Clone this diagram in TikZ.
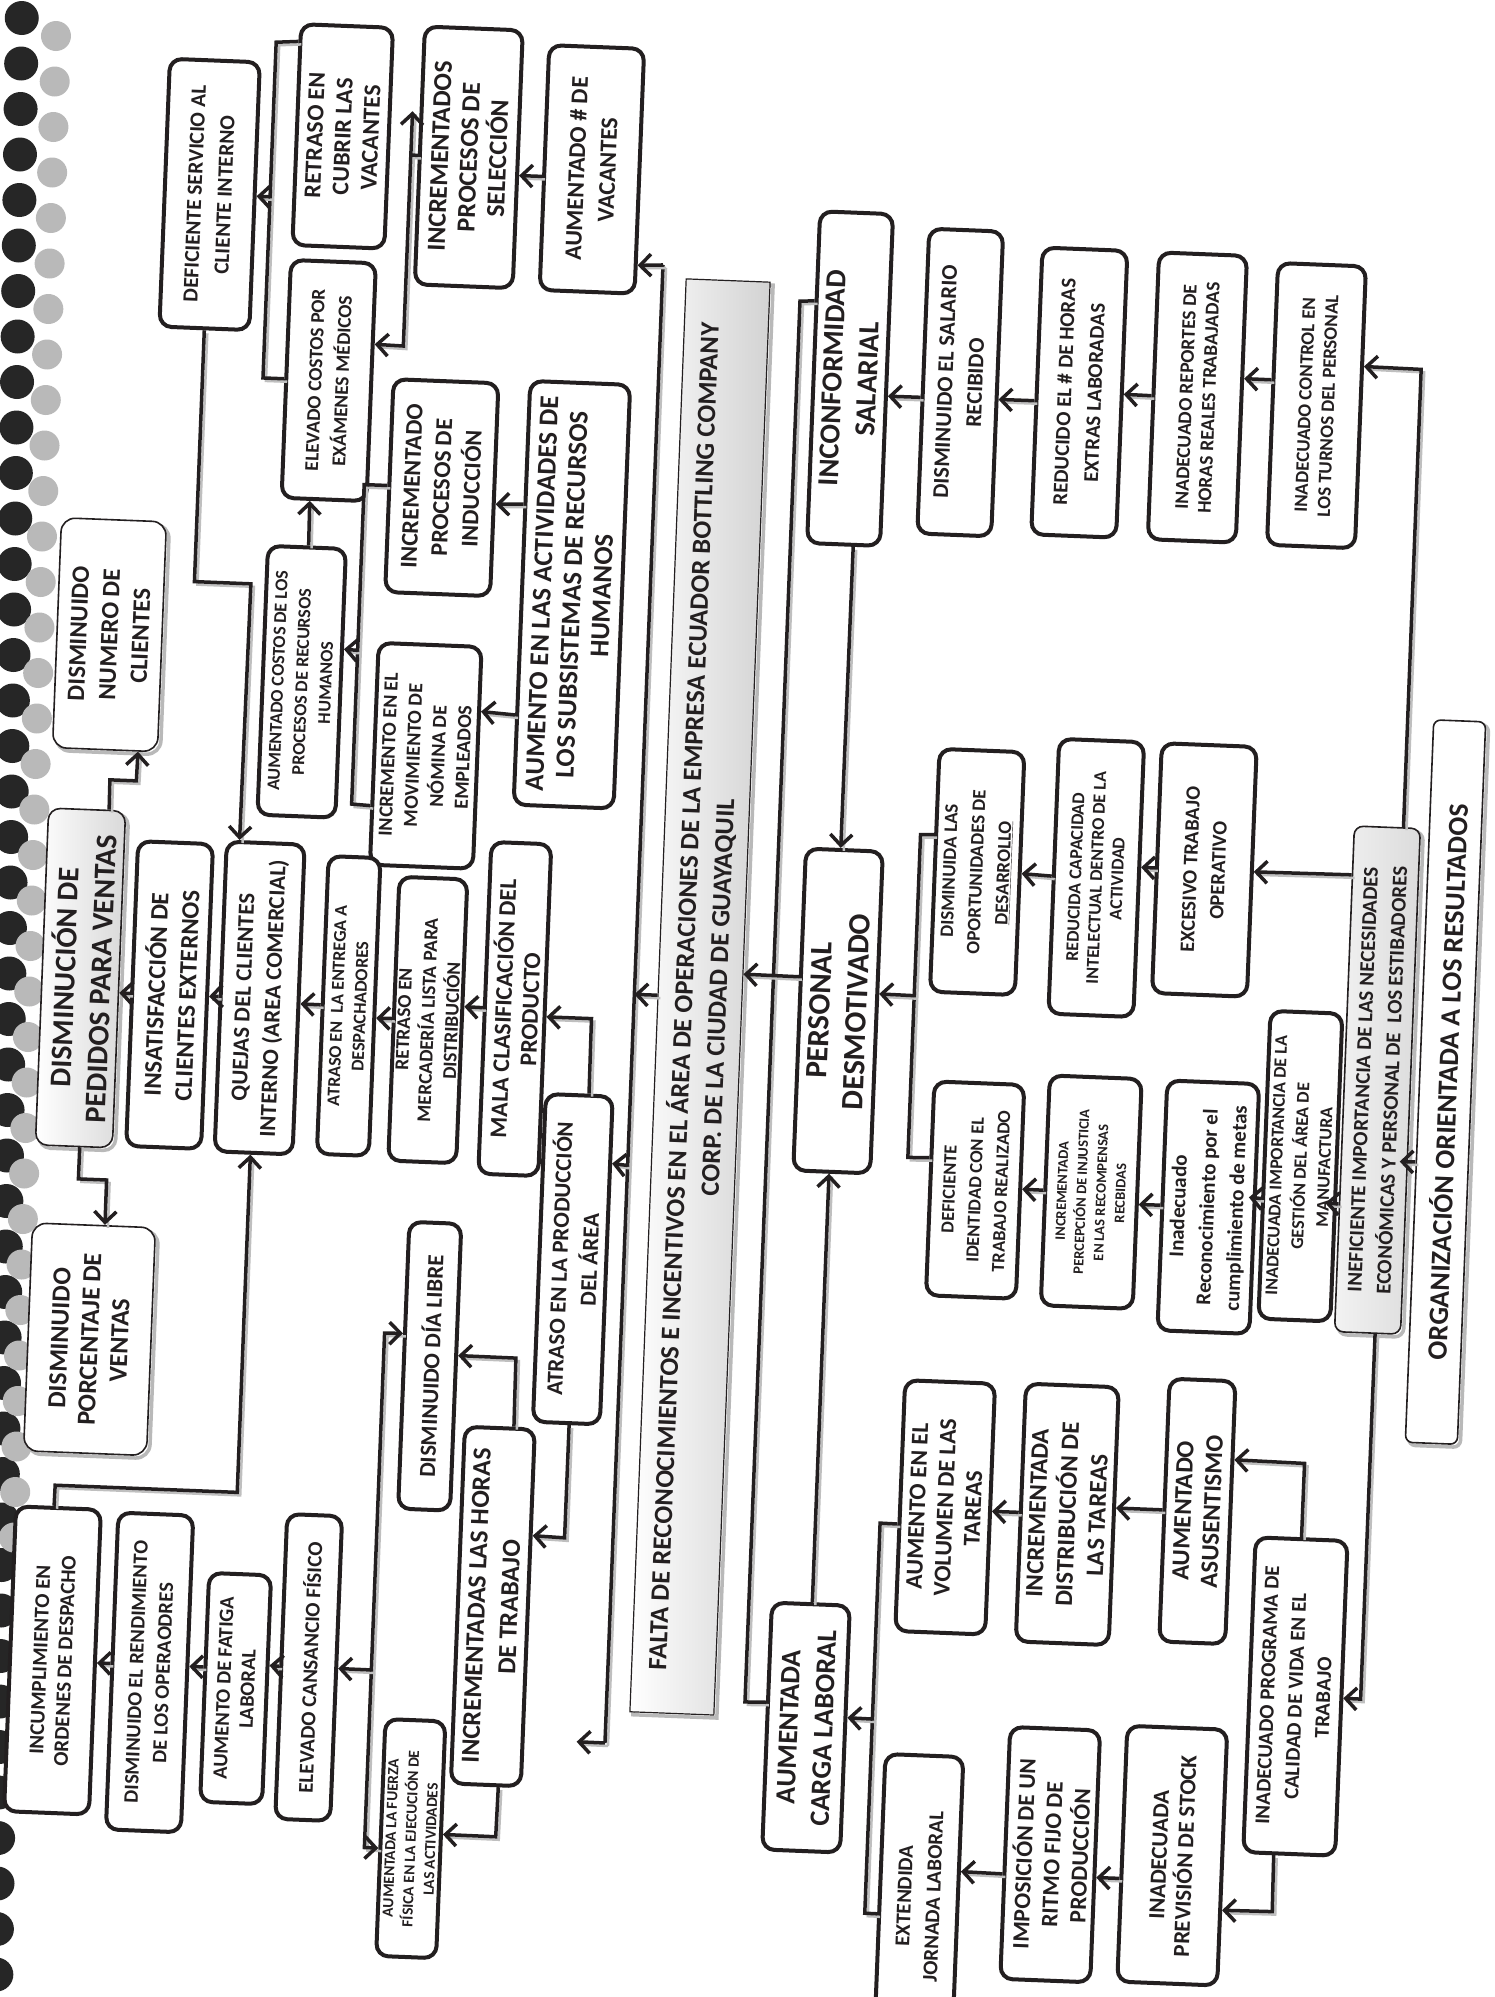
\documentclass[tikz,border=0pt]{standalone}
\usepackage{fontspec}
\setmainfont{Carlito}
\usetikzlibrary{calc,arrows.meta}
\definecolor{ink}{HTML}{231F20}
\tikzset{
  nd/.style={rotate=90, align=center, inner sep=2pt, text=ink},
  sz/.style 2 args={minimum height=#1pt, minimum width=#2pt},
  fs/.style 2 args={font=\fontsize{#1}{#2}\selectfont\bfseries},
  shd/.style={preaction={draw=gray!55, line width=3.5pt, transform canvas={xshift=3pt,yshift=-3pt}}},
  bx/.style={nd, draw=ink, line width=4pt, rounded corners=12pt, fill=white},
  thinbox/.style={nd, shd, draw=ink, line width=1.6pt, rounded corners=14pt, fill=white},
  graybox/.style={nd, shd, draw=ink, line width=1.6pt, rounded corners=12pt, left color=white, right color=gray!30},
  inefbox/.style={nd, shd, draw=ink, line width=1.6pt, rounded corners=9pt, left color=gray!10, right color=gray!28},
  orgbox/.style={nd, shd, draw=ink, line width=1.6pt, rounded corners=7pt, fill=white},
  barbox/.style={nd, shd, draw=ink, line width=1.2pt, left color=white, right color=gray!35},
  ln/.style={line width=3.5pt, draw=ink, preaction={-, draw=gray!50, line width=2.5pt, transform canvas={xshift=3pt,yshift=-3pt}}},
  ar/.style={ln, -{Straight Barb[length=11pt,width=22pt]}},
  arr2/.style={ln, {Straight Barb[length=11pt,width=22pt]}-{Straight Barb[length=11pt,width=22pt]}},
}
\begin{document}
\begin{tikzpicture}[x=1pt,y=-1pt]
\useasboundingbox (0,0) rectangle (1494,1997);
\clip (0,0) rectangle (1494,1997);
\fill[white] (0,0) rectangle (1494,1997);
% spiral binding
\foreach \i in {0,...,43}{
  \pgfmathsetmacro\spy{18+45.5*\i}
  \pgfmathsetmacro\spx{22-0.013*\spy}
  \fill[black!85] (\spx,\spy) circle[radius=17];
}
\foreach \i in {0,...,33}{
  \pgfmathsetmacro\spy{36+45.5*\i}
  \pgfmathsetmacro\spx{57-0.028*\spy}
  \fill[gray!55] (\spx,\spy) circle[radius=15];
}
\begin{scope}[rotate around={-2.25:(747,998)}, transform shape]
% ---------------- nodes ----------------
\node[bx, sz={90}{268}, fs={21.5}{30}] (defserv) at (178.5,216.1) {DEFICIENTE SERVICIO AL\\CLIENTE INTERNO};
\node[bx, sz={92}{221}, fs={24}{28}] (retcub) at (309.2,152.9) {RETRASO EN\\CUBRIR LAS\\VACANTES};
\node[bx, sz={85}{238}, fs={19.5}{27}] (elevcost) at (304.8,397.4) {ELEVADO COSTOS POR\\EXÁMENES MÉDICOS};
\node[bx, sz={98}{258}, fs={26}{29}] (selec) at (436,168.9) {INCREMENTADOS\\PROCESOS DE\\SELECCIÓN};
\node[bx, sz={105}{213}, fs={24}{30}] (induc) at (422,500) {INCREMENTADO\\PROCESOS DE\\INDUCCIÓN};
\node[bx, sz={95}{245}, fs={24}{31}] (vac) at (559.5,176.1) {AUMENTADO \# DE\\VACANTES};
\node[barbox, sz={84}{1434}, fs={26.5}{34}] (bar) at (700,998.8) {FALTA DE RECONOCIMIENTOS E INCENTIVOS EN EL ÁREA DE OPERACIONES DE LA EMPRESA ECUADOR BOTTLING COMPANY\\CORP. DE LA CIUDAD DE GUAYAQUIL};
\node[bx, sz={73}{332}, fs={29}{35}] (inconf) at (825.7,375) {INCONFORMIDAD\\SALARIAL};
\node[bx, sz={74}{305}, fs={22.5}{30}] (dsal) at (935.9,374.6) {DISMINUIDO EL SALARIO\\RECIBIDO};
\node[bx, sz={85}{287}, fs={21}{30}] (redu) at (1055.3,380) {REDUCIDO EL \# DE HORAS\\EXTRAS LABORADAS};
\node[bx, sz={88}{287}, fs={19.5}{23}] (repor) at (1173.5,380.3) {INADECUADO REPORTES DE\\HORAS REALES TRABAJADAS};
\node[bx, sz={88}{282}, fs={19}{23}] (ctrl) at (1292.8,383.7) {INADECUADO CONTROL EN\\LOS TURNOS DEL PERSONAL};
\node[thinbox, sz={105}{230}, fs={25}{31}] (numcli) at (95.7,660) {DISMINUIDO\\NUMERO DE\\CLIENTES};
\node[graybox, sz={77}{337}, fs={30}{36}] (pedidos) at (80.2,1004.1) {DISMINUCIÓN DE\\PEDIDOS PARA VENTAS};
\node[bx, sz={75}{305}, fs={25}{31}] (insat) at (169.9,1017.7) {INSATISFACCIÓN DE\\CLIENTES EXTERNOS};
\node[bx, sz={78}{310}, fs={23}{30}] (quejas) at (260,1017.1) {QUEJAS DEL CLIENTES\\INTERNO (AREA COMERCIAL)};
\node[bx, sz={78}{269}, fs={18}{24}] (aucost) at (289.6,699.5) {AUMENTADO COSTOS DE LOS\\PROCESOS DE RECURSOS\\HUMANOS};
\node[bx, sz={103}{222}, fs={20}{25}] (nomina) at (416.5,768.6) {INCREMENTO EN EL\\MOVIMIENTO DE\\NÓMINA DE\\EMPLEADOS};
\node[bx, sz={100}{424}, fs={27}{30}] (subsis) at (556.2,601.9) {AUMENTO EN LAS ACTIVIDADES DE\\LOS SUBSISTEMAS DE RECURSOS\\HUMANOS};
\node[bx, sz={77}{322}, fs={31}{37}] (personal) at (838.5,1007.4) {PERSONAL\\DESMOTIVADO};
\node[bx, sz={85}{243}, fs={19}{27}] (dopor) at (972.1,863) {DISMINUIDA LAS\\OPORTUNIDADES DE\\\underline{DESARROLLO}};
\node[bx, sz={85}{275}, fs={18}{21}] (redcap) at (1091.3,864.3) {REDUCIDA CAPACIDAD\\INTELECTUAL DENTRO DE LA\\ACTIVIDAD};
\node[bx, sz={95}{250}, fs={20.5}{28}] (exces) at (1199,852.1) {EXCESIVO TRABAJO\\OPERATIVO};
\node[inefbox, sz={66}{506}, fs={21}{29}] (inef) at (1380.2,1055.3) {INEFICIENTE IMPORTANCIA DE LAS NECESIDADES\\ECONÓMICAS Y PERSONAL DE\ \ LOS ESTIBADORES};
\node[bx, sz={72}{308}, fs={18}{24}] (inimp) at (1306.6,1144.3) {INADECUADA IMPORTANCIA DE LA\\GESTIÓN DEL ÁREA DE\\MANUFACTURA};
\node[bx, sz={92}{250}, fs={21}{29}] (inrec) at (1216.2,1188.9) {Inadecuado\\Reconocimiento por el\\cumplimiento de metas};
\node[bx, sz={92}{230}, fs={14.5}{19.5}] (percep) at (1098.6,1178.5) {INCREMENTADA\\PERCEPCIÓN DE INJUSTICIA\\EN LAS RECOMPENSAS\\RECBIDAS};
\node[bx, sz={90}{214}, fs={18.4}{26}] (defid) at (982.5,1181) {DEFICIENTE\\IDENTIDAD CON EL\\TRABAJO REALIZADO};
\node[orgbox, sz={52}{723}, fs={28}{30}] (org) at (1448.3,1054.6) {ORGANIZACIÓN ORIENTADA A LOS RESULTADOS};
\node[thinbox, sz={123}{228}, fs={26}{30}] (porc) at (103.4,1364.8) {DISMINUIDO\\PORCENTAJE DE\\VENTAS};
\node[bx, sz={52}{298}, fs={18}{23}] (atrent) at (349.3,1021.6) {ATRASO EN\ \ LA ENTREGA A\\DESPACHADORES};
\node[bx, sz={68}{284}, fs={19.5}{24}] (retmer) at (428.9,1032.5) {RETRASO EN\\MERCADERÍA LISTA PARA\\DISTRIBUCIÓN};
\node[bx, sz={60}{332}, fs={24}{27}] (mala) at (515.4,1018.1) {MALA CLASIFICACIÓN DEL\\PRODUCTO};
\node[bx, sz={52}{287}, fs={23}{27}] (dialib) at (444.4,1378.4) {DISMINUIDO DÍA LIBRE};
\node[bx, sz={85}{305}, fs={21}{25}] (incump) at (79,1687.2) {INCUMPLIMIENTO EN\\ORDENES DE DESPACHO};
\node[bx, sz={75}{317}, fs={20.5}{27}] (rendi) at (176.5,1695.4) {DISMINUIDO EL RENDIMIENTO\\DE LOS OPERAODRES};
\node[bx, sz={62}{229}, fs={20.5}{24}] (fatiga) at (263.1,1708.1) {AUMENTO DE FATIGA\\LABORAL};
\node[bx, sz={55}{305}, fs={21}{25}] (cansan) at (335.3,1684.2) {ELEVADO CANSANCIO FÍSICO};
\node[bx, sz={60}{237}, fs={15.5}{20}] (fuerza) at (444,1851.2) {AUMENTADA LA FUERZA\\FÍSICA EN LA EJECUCIÓN DE\\LAS ACTIVIDADES};
\node[bx, sz={70}{357}, fs={26}{33}] (horas) at (516.9,1616) {INCREMENTADAS LAS HORAS\\DE TRABAJO};
\node[bx, sz={67}{328}, fs={23}{30}] (atrprod) at (583.2,1265.8) {ATRASO EN LA PRODUCCIÓN\\DEL ÁREA};
\node[bx, sz={78}{247}, fs={28}{35}] (aucarga) at (834.6,1724.7) {AUMENTADA\\CARGA LABORAL};
\node[bx, sz={90}{251}, fs={24}{28}] (volumen) at (965,1499.2) {AUMENTO EN EL\\VOLUMEN DE LAS\\TAREAS};
\node[bx, sz={93}{258}, fs={25}{30}] (distrib) at (1087.3,1501.4) {INCREMENTADA\\DISTRIBUCIÓN DE\\LAS TAREAS};
\node[bx, sz={66}{263}, fs={25}{29}] (asus) at (1217.2,1493.3) {AUMENTADO\\ASUSENTISMO};
\node[bx, sz={92}{315}, fs={21}{28}] (progr) at (1322.4,1674.5) {INADECUADO PROGRAMA DE\\CALIDAD DE VIDA EN EL\\TRABAJO};
\node[bx, sz={90}{252}, fs={23.5}{28}] (impos) at (1083.6,1842.1) {IMPOSICIÓN DE UN\\RITMO FIJO DE\\PRODUCCIÓN};
\node[bx, sz={100}{256}, fs={23}{26}] (prev) at (1205.6,1838.3) {INADECUADA\\PREVISIÓN DE STOCK};
\node[bx, sz={78}{282}, fs={21}{29}] (extend) at (954,1889) {EXTENDIDA\\JORNADA LABORAL};
% ---------------- connectors ----------------
\draw[ln] ($(retcub.north east)!0.086!(retcub.north west)$) -- (239,61.4) -- (239,397.4) -- (elevcost.north);
\draw[ar] (239,216.1) -- (defserv.south);
\draw[ar] (selec.north) -- (378,168.9) -- (378,125);
\draw[ar] (378,168.9) -- (378,360) -- ($(elevcost.south east)!0.343!(elevcost.south west)$);
\draw[ar] ($(vac.north east)!0.536!(vac.north west)$) -- ($(selec.south east)!0.562!(selec.south west)$);
\coordinate (busend) at (606,1748);
\draw[ln] (634.3,268.8) -- (634.3,1748);
\draw[ar] (634.3,268.8) -- ($(vac.south east)!0.878!(vac.south west)$);
\draw[ar] (634.3,1170) -- ($(atrprod.south east)!0.208!(atrprod.south west)$);
\draw[ar] (634.3,1748) -- (busend);
\draw[ar] (bar.north) -- (634.3,998.8);
\draw[ar] (defserv.west) -- (178.5,603.6) -- (235,603.6) -- ($(quejas.north east)!0.18!(quejas.south east)$);
\draw[ar] ($(aucost.north east)!0.52!(aucost.south east)$) -- ($(elevcost.north west)!0.34!(elevcost.south west)$);
\draw[ln] (induc.north) -- (344.3,500) -- (344.3,819.7) -- ($(nomina.north east)!0.73!(nomina.north west)$);
\draw[ar] (344.3,665.9) -- ($(aucost.south east)!0.375!(aucost.south west)$);
\draw[ar] ($(subsis.north east)!0.293!(subsis.north west)$) -- ($(induc.south east)!0.567!(induc.south west)$);
\draw[ar] ($(subsis.north east)!0.786!(subsis.north west)$) -- ($(nomina.south east)!0.295!(nomina.south west)$);
\draw[ar] ($(pedidos.north east)!0.78!(pedidos.south east)$) -- (101.8,805) -- (128.3,805) -- ($(numcli.north west)!0.81!(numcli.south west)$);
\draw[ar] ($(pedidos.north west)!0.575!(pedidos.south west)$) -- (86,1205) -- (114.2,1205) -- ($(porc.north east)!0.588!(porc.south east)$);
\draw[ar] (insat.north) -- ($(pedidos.south east)!0.54!(pedidos.south west)$);
\draw[ar] (quejas.north) -- (insat.south);
\draw[ar] (atrent.north) -- ($(quejas.south east)!0.514!(quejas.south west)$);
\draw[ar] (retmer.north) -- ($(atrent.south east)!0.537!(atrent.south west)$);
\draw[ar] (mala.north) -- ($(retmer.south east)!0.449!(retmer.south west)$);
\draw[ar] ($(atrprod.north east)!0.637!(atrprod.south east)$) -- (592.4,1024.7) -- ($(mala.south east)!0.52!(mala.south west)$);
\draw[ar] ($(incump.north east)!0.45!(incump.south east)$) -- (74.8,1512) -- (257,1512) -- ($(quejas.north west)!0.462!(quejas.south west)$);
\draw[ar] ($(atrprod.north west)!0.54!(atrprod.south west)$) -- (585.9,1544.6) -- ($(horas.south east)!0.30!(horas.south west)$);
\draw[ar] ($(horas.north east)!0.69!(horas.south east)$) -- (530.2,1366.9) -- ($(dialib.south east)!0.46!(dialib.south west)$);
\draw[ar] ($(horas.north west)!0.67!(horas.south west)$) -- (528.8,1846) -- ($(fuerza.south east)!0.478!(fuerza.south west)$);
\draw[arr2] ($(dialib.north east)!0.391!(dialib.north west)$) -- (398,1347.1) -- (398,1861.9) -- ($(fuerza.north east)!0.545!(fuerza.north west)$);
\draw[ar] (398,1684.2) -- (cansan.south);
\draw[ar] (cansan.north) -- ($(fatiga.south east)!0.396!(fatiga.south west)$);
\draw[ar] ($(fatiga.north east)!0.413!(fatiga.north west)$) -- ($(rendi.south east)!0.477!(rendi.south west)$);
\draw[ar] ($(rendi.north east)!0.477!(rendi.north west)$) -- ($(incump.south east)!0.503!(incump.south west)$);
\draw[ln] ($(inconf.north east)!0.273!(inconf.north west)$) -- (772.6,299.6) -- (772.6,1701.5) -- ($(aucarga.north east)!0.406!(aucarga.north west)$);
\draw[ar] ($(personal.north east)!0.40!(personal.north west)$) -- ($(bar.south east)!0.483!(bar.south west)$);
\draw[ar] ($(inconf.north west)!0.627!(inconf.south west)$) -- ($(personal.north east)!0.455!(personal.south east)$);
\draw[ar] ($(aucarga.north east)!0.518!(aucarga.south east)$) -- ($(personal.north west)!0.468!(personal.south west)$);
\draw[ar] ($(dsal.north east)!0.553!(dsal.north west)$) -- ($(inconf.south east)!0.548!(inconf.south west)$);
\draw[ar] ($(redu.north east)!0.534!(redu.north west)$) -- ($(dsal.south east)!0.55!(dsal.south west)$);
\draw[ar] (repor.north) -- (redu.south);
\draw[ar] ($(ctrl.north east)!0.416!(ctrl.north west)$) -- ($(repor.south east)!0.429!(repor.south west)$);
\draw[ar] ($(inef.north east)!0.74!(inef.south east)$) -- (1396,343.4) -- ($(ctrl.south east)!0.357!(ctrl.south west)$);
\draw[ln] ($(dopor.north east)!0.356!(dopor.north west)$) -- (914,828) -- (914,1151) -- ($(defid.north east)!0.36!(defid.north west)$);
\draw[ar] (914,989.1) -- ($(personal.south east)!0.443!(personal.south west)$);
\draw[ar] (redcap.north) -- (dopor.south);
\draw[ar] (exces.north) -- ($(redcap.south east)!0.456!(redcap.south west)$);
\draw[ar] ($(inef.north east)!0.098!(inef.north west)$) -- (exces.south);
\coordinate (inefL2) at ($(inef.north east)!0.747!(inef.north west)$);
\coordinate (inimpR) at ($(inimp.south east)!0.616!(inimp.south west)$);
\coordinate (inimpL) at ($(inimp.north east)!0.616!(inimp.north west)$);
\draw[ar] (inefL2) -- ($(inimpR)!0.15!(inimpL)$);
\coordinate (inimpL2) at ($(inimp.north east)!0.609!(inimp.north west)$);
\coordinate (inrecR) at ($(inrec.south east)!0.456!(inrec.south west)$);
\coordinate (inrecL) at ($(inrec.north east)!0.456!(inrec.north west)$);
\draw[ar] (inimpL2) -- ($(inrecR)!0.08!(inrecL)$);
\draw[ar] (inrec.north) -- ($(percep.south east)!0.545!(percep.south west)$);
\draw[ar] (percep.north) -- ($(defid.south east)!0.488!(defid.south west)$);
\coordinate (orgL) at ($(org.north east)!0.612!(org.north west)$);
\coordinate (inefR) at ($(inef.south east)!0.659!(inef.south west)$);
\coordinate (inefLx) at ($(inef.north east)!0.659!(inef.north west)$);
\draw[ar] (orgL) -- ($(inefR)!0.12!(inefLx)$);
\draw[ar] ($(inef.north west)!0.614!(inef.south west)$) -- (1387.7,1674.5) -- (progr.south);
\draw[ar] (progr.east) -- (1322.4,1441.2) -- ($(asus.south east)!0.302!(asus.south west)$);
\draw[ar] (asus.north) -- ($(distrib.south east)!0.469!(distrib.south west)$);
\draw[ar] (distrib.north) -- ($(volumen.south east)!0.509!(volumen.south west)$);
\draw[ln] ($(volumen.north east)!0.573!(volumen.north west)$) -- (900.6,1517.5) -- (900.6,1907.9) -- ($(extend.north east)!0.567!(extend.north west)$);
\draw[ar] (900.6,1713.6) -- ($(aucarga.south east)!0.455!(aucarga.south west)$);
\draw[ar] ($(impos.north east)!0.583!(impos.north west)$) -- ($(extend.south east)!0.408!(extend.south west)$);
\draw[ar] ($(prev.north east)!0.596!(prev.north west)$) -- ($(impos.south east)!0.583!(impos.south west)$);
\draw[ar] ($(progr.north west)!0.34!(progr.south west)$) -- (1307.7,1890.3) -- ($(prev.south east)!0.703!(prev.south west)$);
\end{scope}
\end{tikzpicture}
\end{document}
